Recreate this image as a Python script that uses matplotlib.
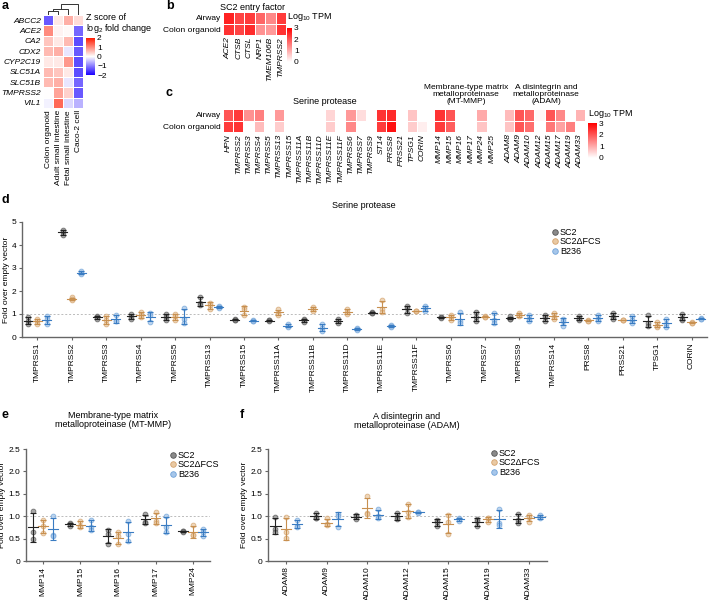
import numpy as np
import matplotlib
matplotlib.use('Agg')
import matplotlib.pyplot as plt
from matplotlib.colors import LinearSegmentedColormap
from matplotlib.lines import Line2D

plt.rcParams['font.family'] = ['Liberation Sans', 'DejaVu Sans']
plt.rcParams['mathtext.fontset'] = 'custom'
plt.rcParams['mathtext.rm'] = 'Liberation Sans'
plt.rcParams['mathtext.it'] = 'Liberation Sans:italic'
plt.rcParams['font.size'] = 6

# ---- panel a: z score heatmap ----
a_genes = ['ABCC2', 'ACE2', 'CA2', 'CDX2', 'CYP2C19', 'SLC51A', 'SLC51B', 'TMPRSS2', 'VIL1']
a_samples = ['Colon organoid', 'Adult small intestine', 'Fetal small intestine', 'Caco-2 cell']
a_z = [
    [-1.3, 0.2, 0.7, 0.3],
    [1.0, 0.1, 0.05, -1.2],
    [0.5, 0.2, 0.6, -1.4],
    [0.6, 0.7, -0.2, -1.3],
    [0.2, 0.2, 0.9, -1.4],
    [0.6, 0.5, 0.2, -1.4],
    [0.6, 0.7, -0.2, -1.2],
    [0.0, 0.8, 0.4, -1.3],
    [-0.1, 1.3, -0.3, -0.6],
]

# ---- panel b: SC2 entry factor ----
tissues = ['Airway', 'Colon organoid']
b_genes = ['ACE2', 'CTSB', 'CTSL', 'NRP1', 'TMEM106B', 'TMPRSS2']
b_tpm = [
    [2.6, 2.2, 2.3, 1.8, 1.4, 2.3],
    [2.4, 2.2, 2.5, 1.3, 1.2, 2.4],
]

# ---- panel c: protease families ----
c_serine = ['HPN', 'TMPRSS2', 'TMPRSS3', 'TMPRSS4', 'TMPRSS5', 'TMPRSS13', 'TMPRSS15',
            'TMPRSS11A', 'TMPRSS11B', 'TMPRSS11D', 'TMPRSS11E', 'TMPRSS11F', 'TMPRSS6',
            'TMPRSS7', 'TMPRSS9', 'ST14', 'PRSS8', 'PRSS21', 'TPSG1', 'CORIN']
c_serine_tpm = [
    [2.0, 2.3, 1.3, 1.5, 0, 1.2, 0, 0, 0, 0, 0.5, 0, 1.2, 0.4, 0, 2.4, 2.5, 0, 0.7, 0],
    [2.3, 2.4, 0, 0.8, 0, 0.6, 0, 0, 0, 0, 0.6, 0, 1.4, 0, 0, 2.3, 2.8, 0, 0.6, 0.2],
]
c_mmp = ['MMP14', 'MMP15', 'MMP16', 'MMP17', 'MMP24', 'MMP25']
c_mmp_tpm = [
    [2.4, 2.0, 0, 0, 1.0, 0],
    [2.3, 1.9, 0, 0, 0.7, 0],
]
c_adam = ['ADAM8', 'ADAM9', 'ADAM10', 'ADAM12', 'ADAM15', 'ADAM17', 'ADAM19', 'ADAM33']
c_adam_tpm = [
    [0.8, 2.0, 1.8, 0.1, 2.0, 1.4, 0, 0.9],
    [0.7, 2.0, 1.7, 0, 1.6, 1.1, 1.5, 0],
]

# ---- panel d: serine protease fold change (3 replicates) ----
viruses = ['SC2', 'SC2ΔFCS', 'B236']
d_genes = ['TMPRSS1', 'TMPRSS2', 'TMPRSS3', 'TMPRSS4', 'TMPRSS5', 'TMPRSS13', 'TMPRSS15',
           'TMPRSS11A', 'TMPRSS11B', 'TMPRSS11D', 'TMPRSS11E', 'TMPRSS11F', 'TMPRSS6',
           'TMPRSS7', 'TMPRSS9', 'TMPRSS14', 'PRSS8', 'PRSS21', 'TPSG1', 'CORIN']
d_sc2 = [[0.86, 0.71, 0.57], [4.65, 4.55, 4.45], [0.92, 0.85, 0.8], [1.0, 0.88, 0.8],
         [1.0, 0.88, 0.75], [1.75, 1.5, 1.38], [0.77, 0.75, 0.73], [0.75, 0.72, 0.68],
         [0.8, 0.72, 0.65], [0.8, 0.7, 0.63], [1.1, 1.05, 1.03], [1.35, 1.25, 1.05],
         [0.88, 0.86, 0.84], [1.1, 0.85, 0.7], [0.9, 0.8, 0.78], [0.95, 0.85, 0.7],
         [0.9, 0.8, 0.75], [1.05, 0.85, 0.8], [0.95, 0.6, 0.5], [1.0, 0.8, 0.75]]
d_dfcs = [[0.79, 0.68, 0.57], [1.72, 1.65, 1.6], [0.9, 0.75, 0.58], [1.1, 0.95, 0.85],
          [1.0, 0.9, 0.75], [1.5, 1.4, 1.22], [1.3, 1.2, 0.95], [1.2, 1.05, 0.95],
          [1.3, 1.2, 1.15], [1.2, 1.1, 1.0], [1.6, 1.2, 1.1], [1.15, 1.13, 1.12],
          [0.95, 0.85, 0.75], [0.9, 0.88, 0.85], [1.05, 0.95, 0.9], [1.05, 0.85, 0.8],
          [0.75, 0.71, 0.7], [0.75, 0.73, 0.72], [0.65, 0.5, 0.45], [0.67, 0.63, 0.62]]
d_b236 = [[0.9, 0.78, 0.57], [2.85, 2.8, 2.75], [0.97, 0.7, 0.68], [1.05, 0.95, 0.65],
          [1.25, 0.8, 0.6], [1.33, 1.3, 1.28], [0.72, 0.7, 0.68], [0.55, 0.48, 0.42],
          [0.55, 0.4, 0.28], [0.4, 0.35, 0.3], [0.52, 0.48, 0.45], [1.35, 1.25, 1.15],
          [1.1, 0.7, 0.6], [1.05, 0.75, 0.6], [0.95, 0.8, 0.7], [0.8, 0.7, 0.5],
          [0.95, 0.8, 0.7], [0.9, 0.75, 0.6], [0.8, 0.55, 0.45], [0.82, 0.8, 0.77]]

# ---- panel e: MT-MMP ----
e_genes = ['MMP14', 'MMP15', 'MMP16', 'MMP17', 'MMP24']
e_sc2 = [[1.12, 0.65, 0.5], [0.85, 0.82, 0.78], [0.7, 0.6, 0.38], [1.05, 0.88, 0.85], [0.68, 0.66, 0.65]]
e_dfcs = [[0.92, 0.78, 0.62], [0.9, 0.78, 0.76], [0.64, 0.55, 0.37], [1.1, 0.9, 0.85], [0.8, 0.58, 0.57]]
e_b236 = [[1.0, 0.58, 0.55], [0.92, 0.75, 0.7], [0.9, 0.6, 0.45], [1.0, 0.75, 0.65], [0.72, 0.65, 0.55]]

# ---- panel f: ADAM ----
f_genes = ['ADAM8', 'ADAM9', 'ADAM10', 'ADAM12', 'ADAM15', 'ADAM19', 'ADAM33']
f_sc2 = [[0.98, 0.72, 0.65], [1.08, 0.97, 0.95], [1.03, 1.0, 0.93], [1.08, 0.98, 0.93],
         [0.92, 0.88, 0.78], [0.93, 0.9, 0.78], [1.05, 0.92, 0.85]]
f_dfcs = [[0.98, 0.65, 0.52], [0.95, 0.82, 0.8], [1.45, 1.08, 1.05], [1.28, 1.1, 0.98],
          [1.02, 0.88, 0.6], [0.97, 0.95, 0.87], [1.02, 0.98, 0.88]]
f_b236 = [[0.92, 0.78, 0.75], [1.05, 1.0, 0.76], [1.15, 1.0, 0.96], [1.1, 1.09, 1.08],
          [0.95, 0.93, 0.9], [1.17, 0.85, 0.8], [1.02, 0.98, 0.95]]

W, H = 709, 600
fig = plt.figure(figsize=(W / 100, H / 100), dpi=100)


def px_axes(x0, y0, x1, y1):
    return fig.add_axes([x0 / W, 1 - y1 / H, (x1 - x0) / W, (y1 - y0) / H])


def px_text(x, y, s, **kw):
    return fig.text(x / W, 1 - y / H, s, **kw)


zcmap = LinearSegmentedColormap.from_list('z', ['#1a00ff', '#ffffff', '#ff1a00'])
tcmap = LinearSegmentedColormap.from_list('t', ['#ffffff', '#ff0000'])


def heatmap(ax, data, cmap, vmin, vmax, lw=0.7):
    data = np.array(data, dtype=float)
    m = ax.pcolormesh(data, cmap=cmap, vmin=vmin, vmax=vmax, edgecolors='white', linewidth=lw)
    ax.set_xlim(0, data.shape[1])
    ax.set_ylim(data.shape[0], 0)
    for s in ax.spines.values():
        s.set_visible(False)
    ax.tick_params(length=0, pad=1.5, labelsize=6)
    return m


# panel a
ax_a = px_axes(43, 15, 83, 108)
m_a = heatmap(ax_a, a_z, zcmap, -2, 2, lw=0.6)
ax_a.set_yticks(np.arange(len(a_genes)) + 0.5)
ax_a.set_yticklabels(a_genes, style='italic', fontsize=6)
ax_a.set_xticks(np.arange(len(a_samples)) + 0.5)
ax_a.set_xticklabels(a_samples, rotation=90, fontsize=6)

ax_dn = px_axes(43, 4, 83, 15)
ax_dn.set_xlim(0, 4)
ax_dn.set_ylim(0, 3.1)
ax_dn.axis('off')
for xs, ys in [([0.5, 0.5, 1.5, 1.5], [0, 1.0, 1.0, 0]),
               ([1.0, 1.0, 2.5, 2.5], [1.0, 1.6, 1.6, 0]),
               ([1.75, 1.75, 3.5, 3.5], [1.6, 3.0, 3.0, 0])]:
    ax_dn.plot(xs, ys, color='#333333', lw=0.7)

cax_a = px_axes(86, 38, 95, 75)
cb = fig.colorbar(m_a, cax=cax_a, ticks=[2, 1, 0, -1, -2])
cb.outline.set_visible(False)
cax_a.tick_params(length=0, pad=1.5, labelsize=6)
px_text(86, 24, 'Z score of\nlog$_2$ fold change', fontsize=6.5, va='center', ha='left', linespacing=1.0)

# panel b
ax_b = px_axes(223, 12, 286, 35)
m_b = heatmap(ax_b, b_tpm, tcmap, 0, 3)
ax_b.set_yticks([0.5, 1.5])
ax_b.set_yticklabels(tissues, fontsize=6)
ax_b.set_xticks(np.arange(len(b_genes)) + 0.5)
ax_b.set_xticklabels(b_genes, rotation=90, style='italic', fontsize=6)
px_text(252, 7, 'SC2 entry factor', fontsize=6.5, ha='center', va='center')
cax_b = px_axes(287, 28, 292, 62)
cb = fig.colorbar(m_b, cax=cax_b, ticks=[0, 1, 2, 3])
cb.outline.set_visible(False)
cax_b.tick_params(length=0, pad=1.5, labelsize=6)
px_text(287, 17, 'Log$_{10}$ TPM', fontsize=6.5, ha='left', va='center')

# panel c
c_parts = [(c_serine, c_serine_tpm, 223, 427), (c_mmp, c_mmp_tpm, 434, 497), (c_adam, c_adam_tpm, 504, 585)]
for i, (genes, vals, x0, x1) in enumerate(c_parts):
    ax = px_axes(x0, 109, x1, 132)
    m_c = heatmap(ax, vals, tcmap, 0, 3)
    ax.set_xticks(np.arange(len(genes)) + 0.5)
    ax.set_xticklabels(genes, rotation=90, style='italic', fontsize=6)
    if i == 0:
        ax.set_yticks([0.5, 1.5])
        ax.set_yticklabels(tissues, fontsize=6)
    else:
        ax.set_yticks([])
px_text(325, 102, 'Serine protease', fontsize=6.5, ha='center', va='center')
px_text(466, 105, 'Membrane-type matrix\nmetalloproteinase\n(MT-MMP)', fontsize=6,
        ha='center', va='bottom', linespacing=1.0)
px_text(546, 105, 'A disintegrin and\nmetalloproteinase\n(ADAM)', fontsize=6,
        ha='center', va='bottom', linespacing=1.0)
cax_c = px_axes(588, 123, 597, 158)
cb = fig.colorbar(m_c, cax=cax_c, ticks=[0, 1, 2, 3])
cb.outline.set_visible(False)
cax_c.tick_params(length=0, pad=1.5, labelsize=6)
px_text(588, 114, 'Log$_{10}$ TPM', fontsize=6.5, ha='left', va='center')

# dot plots
fills = ['#8a8a8a', '#e9c9a3', '#a6c6ea']
edges = ['#555555', '#d4a26c', '#6fa2d8']
lines = ['#222222', '#c89050', '#3a7cc2']


def dotplot(ax, genes, groups, ymax, yticks, yticklabels):
    off = [-0.27, 0.0, 0.27]
    ax.axhline(1.0, color='#bbbbbb', lw=0.7, ls=(0, (2, 2)), zorder=0)
    for g, data in enumerate(groups):
        for i, pts in enumerate(data):
            x = i + off[g]
            pts = np.array(pts)
            mean, sd = pts.mean(), pts.std(ddof=1)
            ax.scatter([x] * len(pts), pts, s=12, facecolor=fills[g], edgecolor=edges[g],
                       lw=0.6, alpha=0.75, zorder=2)
            ax.errorbar(x, mean, yerr=sd, fmt='none', ecolor=lines[g], elinewidth=0.8,
                        capsize=2, capthick=0.8, zorder=3)
            ax.plot([x - 0.13, x + 0.13], [mean, mean], color=lines[g], lw=0.8, zorder=3)
    ax.set_xlim(-0.45, len(genes) - 0.55)
    ax.set_ylim(0, ymax)
    ax.set_xticks(np.arange(len(genes)))
    ax.set_xticklabels(genes, rotation=90, fontsize=6)
    ax.set_yticks(yticks)
    ax.set_yticklabels(yticklabels, fontsize=6)
    for s in ['top', 'right']:
        ax.spines[s].set_visible(False)
    for s in ['left', 'bottom']:
        ax.spines[s].set_color('#666666')
        ax.spines[s].set_linewidth(1.0)
    ax.tick_params(length=2.5, width=0.8, color='#666666', pad=1.5)
    ax.set_ylabel('Fold over empty vector', fontsize=6, labelpad=1.5)


def legend_at(x, y):
    handles = [Line2D([], [], ls='none', marker='o', ms=4, mfc=fills[i], mec=edges[i], mew=0.6)
               for i in range(3)]
    fig.legend(handles, viruses, loc='upper left', bbox_to_anchor=(x / W, 1 - y / H),
               frameon=False, fontsize=6.5, handletextpad=0.2, labelspacing=0.05,
               borderaxespad=0, borderpad=0, handlelength=0.8)


ax_d = px_axes(22, 222, 707, 337)
dotplot(ax_d, d_genes, [d_sc2, d_dfcs, d_b236], 5, [0, 1, 2, 3, 4, 5],
        ['0', '1', '2', '3', '4', '5'])
px_text(364, 205, 'Serine protease', fontsize=6.5, ha='center', va='center')
legend_at(551, 228)

e_ticks = [0, 0.5, 1.0, 1.5, 2.0, 2.5]
e_labels = ['0', '0.5', '1.0', '1.5', '2.0', '2.5']
ax_e = px_axes(26, 449, 210, 561)
dotplot(ax_e, e_genes, [e_sc2, e_dfcs, e_b236], 2.5, e_ticks, e_labels)
px_text(113, 420, 'Membrane-type matrix\nmetalloproteinase (MT-MMP)', fontsize=6.5,
        ha='center', va='center', linespacing=1.0)
legend_at(169, 451)

ax_f = px_axes(268, 449, 547, 561)
dotplot(ax_f, f_genes, [f_sc2, f_dfcs, f_b236], 2.5, e_ticks, e_labels)
px_text(407, 421, 'A disintegrin and\nmetalloproteinase (ADAM)', fontsize=6.5,
        ha='center', va='center', linespacing=1.0)
legend_at(490, 449)

for lab, x, y in [('a', 2, 6), ('b', 166, 6), ('c', 166, 93), ('d', 2, 200), ('e', 2, 415), ('f', 240, 415)]:
    px_text(x, y, lab, fontsize=9, fontweight='bold', ha='left', va='center')

fig.savefig('out.png', dpi=100)
